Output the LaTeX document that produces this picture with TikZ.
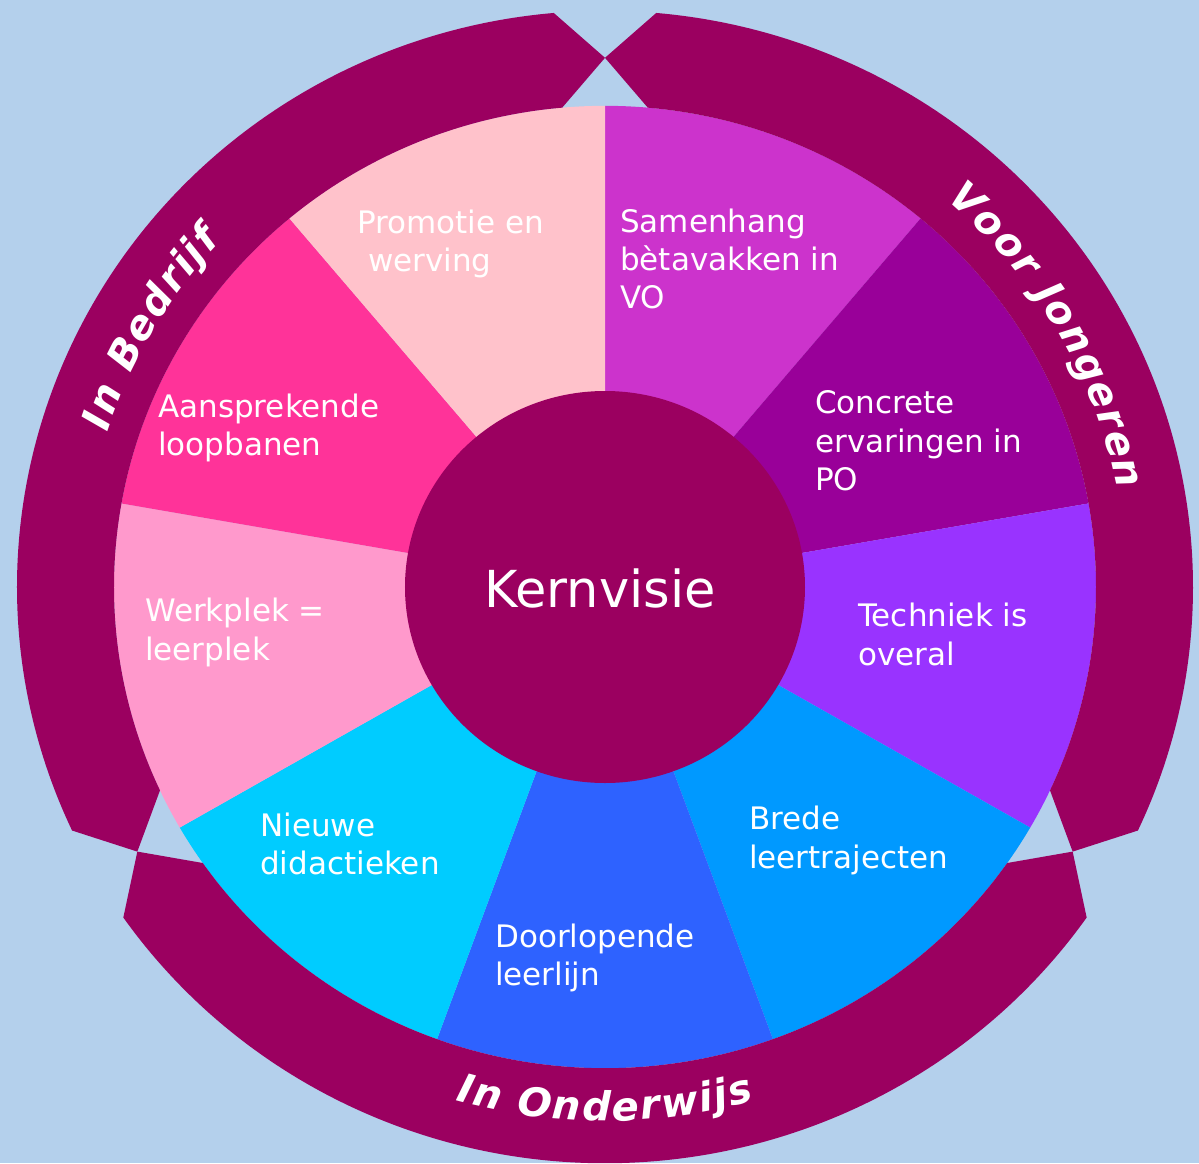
\documentclass[tikz,border=0pt]{standalone}
\usepackage{fontspec}
\setmainfont{DejaVu Sans}
\usetikzlibrary{decorations.text}
\definecolor{bg}{HTML}{B4D0EC}
\definecolor{ringc}{HTML}{9B0060}
\definecolor{cPromo}{HTML}{FFC2CB}
\definecolor{cSamen}{HTML}{CC33CC}
\definecolor{cConcr}{HTML}{990099}
\definecolor{cTechn}{HTML}{9933FF}
\definecolor{cBrede}{HTML}{0099FF}
\definecolor{cDoor}{HTML}{2E62FF}
\definecolor{cNieuw}{HTML}{00CCFF}
\definecolor{cWerk}{HTML}{FF99CC}
\definecolor{cAansp}{HTML}{FF3399}
\newcommand{\ringtextfont}{\bfseries\itshape\fontsize{40}{48}\selectfont}
\begin{document}
\begin{tikzpicture}[x=1pt,y=1pt,
  seglabel/.style={anchor=base west, inner sep=0pt, text=white, font=\fontsize{31}{38}\selectfont},
  ringtext/.style={decorate, decoration={text effects along path, text={#1}, text align=center,
     text effects/.cd, text along path,
     character widths={font=\ringtextfont, inner xsep=0.9pt, inner ysep=0pt},
     characters={text=white, font=\ringtextfont, inner sep=0pt}}}]
\fill[bg] (-605,-576) rectangle (594,587);
\useasboundingbox (-605,-576) rectangle (594,587);
\begin{scope}[yscale=0.98]
  % segments
  \foreach \a/\c in {90/cSamen,50/cConcr,10/cTechn,-30/cBrede,-70/cDoor,-110/cNieuw,-150/cWerk,-190/cAansp,-230/cPromo}{
    \pgfmathsetmacro{\b}{\a-40}
    \fill[\c] (0,0) -- (\a:491) arc[start angle=\a, end angle=\b, radius=491] -- cycle;
  }
  % ring pieces
  \foreach \p/\q in {90/210,210/330,-30/90}{
    \pgfmathsetmacro{\ps}{\p+5}
    \pgfmathsetmacro{\qs}{\q-5}
    \fill[ringc] (\ps:588) arc[start angle=\ps, end angle=\qs, radius=588] -- (\q:540) -- (\qs:491)
      arc[start angle=\qs, end angle=\ps, radius=491] -- (\p:540) -- cycle;
  }
  \fill[ringc] (0,0) circle[radius=200];
  % ring texts
  \path[ringtext={In Bedrijf}] (180:522) arc[start angle=180, end angle=120, radius=522];
  \path[ringtext={Voor Jongeren}] (60:522) arc[start angle=60, end angle=0, radius=522];
  \path[ringtext={In Onderwijs}] (-120:545) arc[start angle=-120, end angle=-60, radius=545];
\end{scope}
% center
\node[anchor=base, inner sep=0pt, text=white, font=\fontsize{51}{60}\selectfont] (kern) at (-5,-20) {Kernvisie};
% segment labels
\node[seglabel] (promo1) at (-248,354) {Promotie en};
\node[seglabel] (promo2) at (-237,316) {werving};
\node[seglabel] (samen1) at (15,355) {Samenhang};
\node[seglabel] (samen2) at (15,317) {bètavakken in};
\node[seglabel] (samen3) at (15,279) {VO};
\node[seglabel] (concr1) at (210,174) {Concrete};
\node[seglabel] (concr2) at (210,135) {ervaringen in};
\node[seglabel] (concr3) at (210,97) {PO};
\node[seglabel] (techn1) at (253,-39) {Techniek is};
\node[seglabel] (techn2) at (253,-78) {overal};
\node[seglabel] (brede1) at (144,-242) {Brede};
\node[seglabel] (brede2) at (144,-281) {leertrajecten};
\node[seglabel] (door1) at (-110,-360) {Doorlopende};
\node[seglabel] (door2) at (-110,-398) {leerlijn};
\node[seglabel] (nieuw1) at (-345,-249) {Nieuwe};
\node[seglabel] (nieuw2) at (-345,-287) {didactieken};
\node[seglabel] (werk1) at (-460,-34) {Werkplek =};
\node[seglabel] (werk2) at (-460,-73) {leerplek};
\node[seglabel] (aansp1) at (-447,170) {Aansprekende};
\node[seglabel] (aansp2) at (-447,132) {loopbanen};
\end{tikzpicture}
\end{document}
